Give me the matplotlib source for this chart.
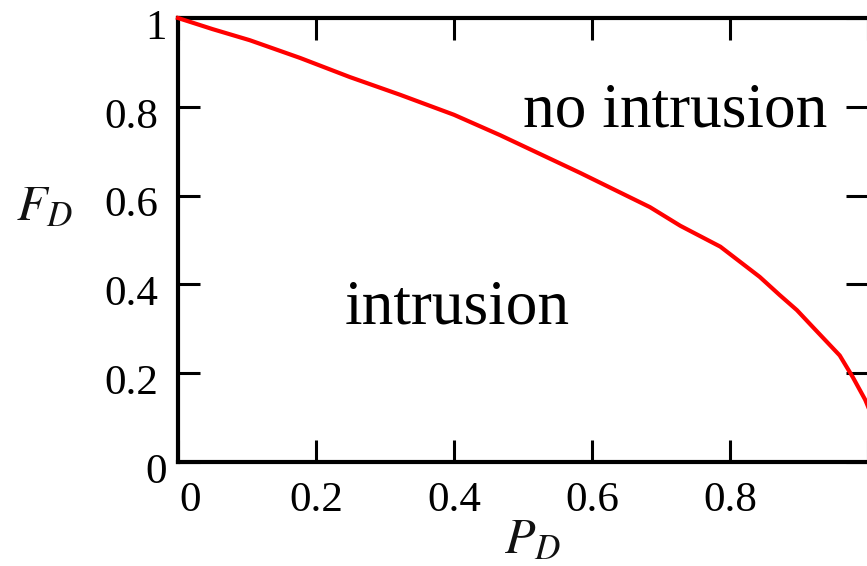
import matplotlib
matplotlib.use("Agg")
import matplotlib.pyplot as plt
import matplotlib.transforms as mtransforms

# Data
p_d = [0.0, 0.05, 0.104, 0.177, 0.249, 0.322, 0.40, 0.467, 0.583, 0.684,
       0.728, 0.786, 0.843, 0.872, 0.897, 0.920, 0.959, 0.978, 0.996, 1.0]
f_d = [1.0, 0.975, 0.950, 0.910, 0.867, 0.827, 0.782, 0.736, 0.651, 0.574,
       0.532, 0.485, 0.417, 0.376, 0.342, 0.304, 0.240, 0.191, 0.140, 0.125]

x_ticks = [0, 0.2, 0.4, 0.6, 0.8, 1.0]
x_tick_labels = ["0", "0.2", "0.4", "0.6", "0.8", ""]
y_ticks = [0, 0.2, 0.4, 0.6, 0.8, 1.0]
y_tick_labels = ["0", "0.2", "0.4", "0.6", "0.8", "1"]

plt.rcParams['font.family'] = ['Liberation Serif', 'DejaVu Serif']
plt.rcParams['mathtext.fontset'] = 'stix'

W, H = 867, 566
fig = plt.figure(figsize=(W / 100, H / 100), dpi=100)
left_px, right_px, top_px, bottom_px = 178, 868, 18, 462
ax = fig.add_axes([left_px / W, (H - bottom_px) / H,
                   (right_px - left_px) / W, (bottom_px - top_px) / H])

ax.plot(p_d, f_d, color='#ff0000', lw=3.0, clip_on=False, zorder=3)

ax.set_xlim(0, 1)
ax.set_ylim(0, 1)
ax.set_xticks(x_ticks)
ax.set_xticklabels(x_tick_labels)
ax.set_yticks(y_ticks)
ax.set_yticklabels(y_tick_labels)

for s in ['left', 'bottom', 'top']:
    ax.spines[s].set_linewidth(3.0)
ax.spines['right'].set_visible(False)

ax.tick_params(axis='both', which='both', direction='in', length=16, width=2.2,
               top=True, right=True, labelsize=31, color='black')
ax.tick_params(axis='x', pad=14)
ax.tick_params(axis='y', pad=14)

# small per-label offsets as in reference
xl = ax.get_xticklabels()
xl[0].set_transform(xl[0].get_transform() + mtransforms.ScaledTranslation(12 / 100, 0, fig.dpi_scale_trans))
for lab in ax.get_yticklabels():
    lab.set_transform(lab.get_transform() + mtransforms.ScaledTranslation(0, -6 / 100, fig.dpi_scale_trans))
yl = ax.get_yticklabels()
for i in (0, 5):
    yl[i].set_transform(yl[i].get_transform() + mtransforms.ScaledTranslation(8 / 100, 0, fig.dpi_scale_trans))

ax.text(0.405, 0.313, "intrusion", fontsize=45.5, ha='center', va='baseline')
ax.text(0.720, 0.755, "no intrusion", fontsize=45.5, ha='center', va='baseline')

fig.text(45 / W, 1 - 208 / H, r'$F_D$', fontsize=36, ha='center', va='center', color='#111111')
fig.text(533 / W, 1 - 541 / H, r'$P_D$', fontsize=36, ha='center', va='center', color='#111111')

fig.savefig("out.png", dpi=100)
